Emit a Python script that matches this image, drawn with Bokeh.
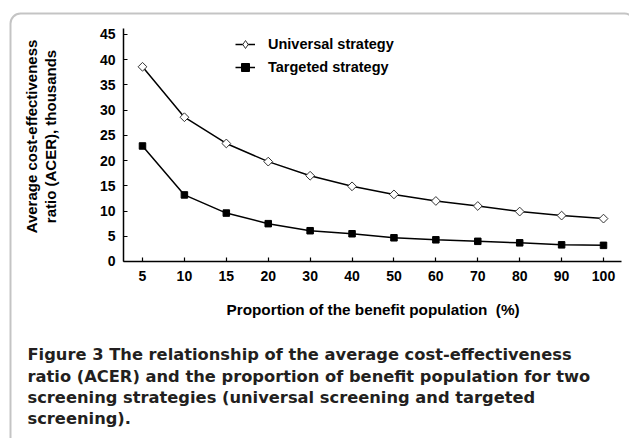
import math
from bokeh.plotting import figure
from bokeh.models import (Range1d, FixedTicker, Label, Legend, LegendItem,
                          BoxAnnotation, LinearAxis)
from bokeh.embed import file_html
from bokeh.resources import INLINE

# ---- data ----
categories = ["5", "10", "15", "20", "30", "40", "50", "60", "70", "80", "90", "100"]
universal = [38.6, 28.6, 23.4, 19.8, 17.0, 14.9, 13.3, 12.0, 11.0, 9.9, 9.1, 8.5]
targeted = [22.9, 13.2, 9.6, 7.5, 6.1, 5.5, 4.7, 4.3, 4.0, 3.7, 3.3, 3.2]
y_ticks = [0, 5, 10, 15, 20, 25, 30, 35, 40, 45]
series_names = ["Universal strategy", "Targeted strategy"]
x_title = "Proportion of the benefit population\u00a0\u00a0(%)"
y_title = ["Average cost-effectiveness", "ratio (ACER), thousands"]
caption = [
    "Figure 3 The relationship of the average cost-effectiveness",
    "ratio (ACER) and the proportion of benefit population for two",
    "screening strategies (universal screening and targeted",
    "screening).",
]

xs = list(range(len(categories)))

W, H = 629, 438

# frame covers the whole canvas; the chart area is bounded by the axes
p = figure(width=W, height=H, output_backend="svg", toolbar_location=None,
           x_range=Range1d(-3.388, 11.620), y_range=Range1d(-35.09, 51.74),
           x_axis_location=None, y_axis_location=None,
           min_border_left=0, min_border_right=0, min_border_top=0,
           min_border_bottom=0)
p.outline_line_color = None
p.grid.visible = False
p.background_fill_color = "white"
p.border_fill_color = "white"

X_LO, X_HI = -0.453, 11.43
Y_LO, Y_HI = 0, 46.2

AX_FONT = "Liberation Sans"
xaxis = LinearAxis(fixed_location=Y_LO, bounds=(X_LO, X_HI))
yaxis = LinearAxis(fixed_location=X_LO, bounds=(Y_LO, Y_HI))
for ax in (xaxis, yaxis):
    ax.axis_line_color = "black"
    ax.axis_line_width = 1.5
    ax.major_tick_line_color = "black"
    ax.major_tick_line_width = 1.2
    ax.major_tick_in = 4
    ax.major_tick_out = 0
    ax.minor_tick_line_color = None
    ax.major_label_text_font = AX_FONT
    ax.major_label_text_font_style = "bold"
    ax.major_label_text_font_size = "14px"
    ax.major_label_text_color = "black"
xaxis.ticker = FixedTicker(ticks=xs)
xaxis.major_label_overrides = {i: c for i, c in zip(xs, categories)}
xaxis.major_label_standoff = 10
yaxis.ticker = FixedTicker(ticks=y_ticks)
yaxis.major_label_standoff = 8
p.add_layout(xaxis, "below")
p.add_layout(yaxis, "left")

# series
l1 = p.line(xs, universal, line_color="black", line_width=1.5)
s1 = p.scatter(xs, universal, marker="square", angle=math.pi / 4, size=6.2,
               fill_color="white", line_color="#333333", line_width=1)
l2 = p.line(xs, targeted, line_color="black", line_width=1.5)
s2 = p.scatter(xs, targeted, marker="square", size=6.5,
               fill_color="black", line_color="black", line_width=1)
# legend-only diamond (NaN point, never drawn in the chart)
s1_leg = p.scatter([float("nan")], [float("nan")], marker="diamond", size=10,
                   fill_color="white", line_color="#333333", line_width=1)

legend = Legend(items=[LegendItem(label=series_names[0], renderers=[l1, s1_leg]),
                       LegendItem(label=series_names[1], renderers=[l2, s2])],
                location=(235, H - 77), glyph_width=20, glyph_height=20,
                label_standoff=13, spacing=3, padding=0, margin=0,
                border_line_color=None, background_fill_alpha=0,
                label_text_font=AX_FONT, label_text_font_style="bold",
                label_text_font_size="14.5px", label_text_color="black")
p.add_layout(legend)


def sy(py):
    return H - py


# outer rounded frame
box = BoxAnnotation(left=10, right=634, top=sy(13), bottom=sy(480),
                    left_units="screen", right_units="screen",
                    top_units="screen", bottom_units="screen",
                    fill_alpha=0, line_color="#3c3c3c", line_width=2,
                    border_radius=10, editable=False)
p.add_layout(box)

# axis titles
p.add_layout(Label(x=226, y=sy(309), x_units="screen", y_units="screen",
                   text=x_title, text_font=AX_FONT, text_font_style="bold",
                   text_font_size="15.3px", text_color="black",
                   text_align="left", text_baseline="middle"))
for txt, px in zip(y_title, [31, 50]):
    p.add_layout(Label(x=px, y=sy(136), x_units="screen", y_units="screen",
                       text=txt, angle=math.pi / 2, text_font=AX_FONT,
                       text_font_style="bold", text_font_size="15px",
                       text_color="black", text_align="center",
                       text_baseline="middle"))

# caption
for txt, base in zip(caption, [354, 376, 397, 418]):
    p.add_layout(Label(x=27, y=sy(base), x_units="screen", y_units="screen",
                       text=txt, text_font="DejaVu Sans", text_font_style="bold",
                       text_font_size="16.3px", text_color="#231f20",
                       text_align="left", text_baseline="alphabetic"))

open("out.html", "w").write(file_html(p, INLINE))
